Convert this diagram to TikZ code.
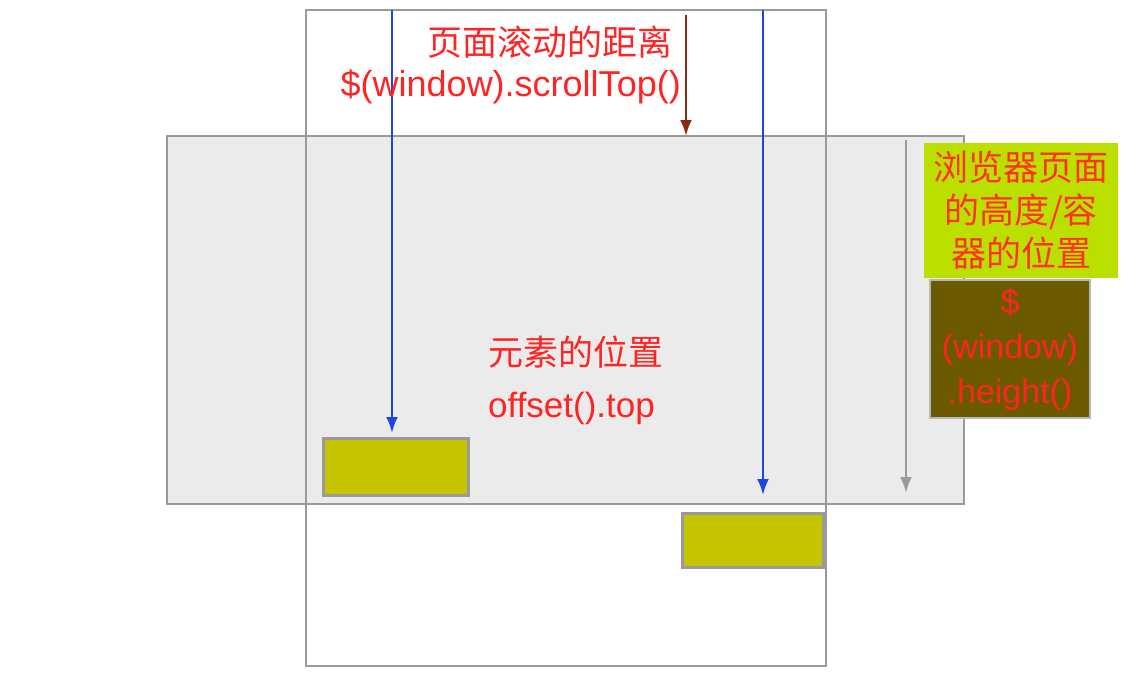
\documentclass[tikz,border=0pt]{standalone}
\usepackage{fontspec}
\setmainfont{Liberation Sans}
\newfontfamily\cjk{Noto Sans CJK SC}
\usetikzlibrary{arrows.meta}
\definecolor{frame}{HTML}{9A9A9A}
\definecolor{viewbg}{HTML}{EBEBEB}
\definecolor{olivey}{HTML}{C4C400}
\definecolor{limeg}{HTML}{BBE000}
\definecolor{darkol}{HTML}{6B5A00}
\definecolor{redtxt}{HTML}{FF2424}
\definecolor{bluel}{HTML}{2244E6}
\definecolor{brownl}{HTML}{8B2A10}
\begin{document}
\begin{tikzpicture}[x=1pt,y=-1pt,
  framebox/.style={draw=frame,line width=2.5pt},
  elembox/.style={draw=frame,line width=3pt,fill=olivey},
  lbl/.style={text=redtxt,font=\fontsize{35}{44}\selectfont,inner sep=0pt},
  arr/.style={line width=2.5pt,-{Latex[length=16pt,width=12pt]}}]
\useasboundingbox[fill=white] (0,0) rectangle (1144,678);
% document and viewport
\fill[white] (306,10) rectangle (826,666);
\path[framebox,fill=viewbg] (167,136) rectangle (964,504);
\draw[framebox] (306,10) rectangle (826,666);
% element boxes
\node[elembox,minimum width=145pt,minimum height=57pt,inner sep=0pt] (e1) at (395.5,466.5) {};
\node[elembox,minimum width=141pt,minimum height=54pt,inner sep=0pt] (e2) at (752.5,540) {};
% coordinates for arrows
\coordinate (b1s) at (392,10);
\coordinate (b1e) at (392,433);
\coordinate (b2s) at (763,10);
\coordinate (b2e) at (763,495);
\coordinate (rs) at (686,15);
\coordinate (re) at (686,136);
\coordinate (gs) at (906,140);
\coordinate (ge) at (906,493);
\draw[arr,bluel] (b1s) -- (b1e);
\draw[arr,bluel] (b2s) -- (b2e);
\draw[arr,brownl] (rs) -- (re);
\draw[arr,frame] (gs) -- (ge);
% labels
\node[lbl,anchor=east] (t1) at (673,42) {\cjk 页面滚动的距离};
\node[lbl,anchor=east,font=\fontsize{36}{44}\selectfont] (t2) at (681,87) {\$(window).scrollTop()};
\node[lbl,anchor=west] (m1) at (488,352) {\cjk 元素的位置};
\node[lbl,anchor=west] (m2) at (488,408) {offset().top};
% right boxes
\node[fill=limeg,minimum width=194pt,minimum height=135pt,inner sep=0pt,
  text=redtxt!85!orange,align=center,font=\cjk\fontsize{35}{43}\selectfont] (hb) at (1021,210.5)
  {浏览器页面\\的高度/容\\器的位置};
\node[fill=darkol,draw=frame!70,line width=2.5pt,minimum width=160pt,minimum height=138pt,inner sep=0pt,
  text=redtxt,align=center,font=\fontsize{34}{45}\selectfont] (wb) at (1010,349)
  {\$\\(window)\\.height()};
\end{tikzpicture}
\end{document}
